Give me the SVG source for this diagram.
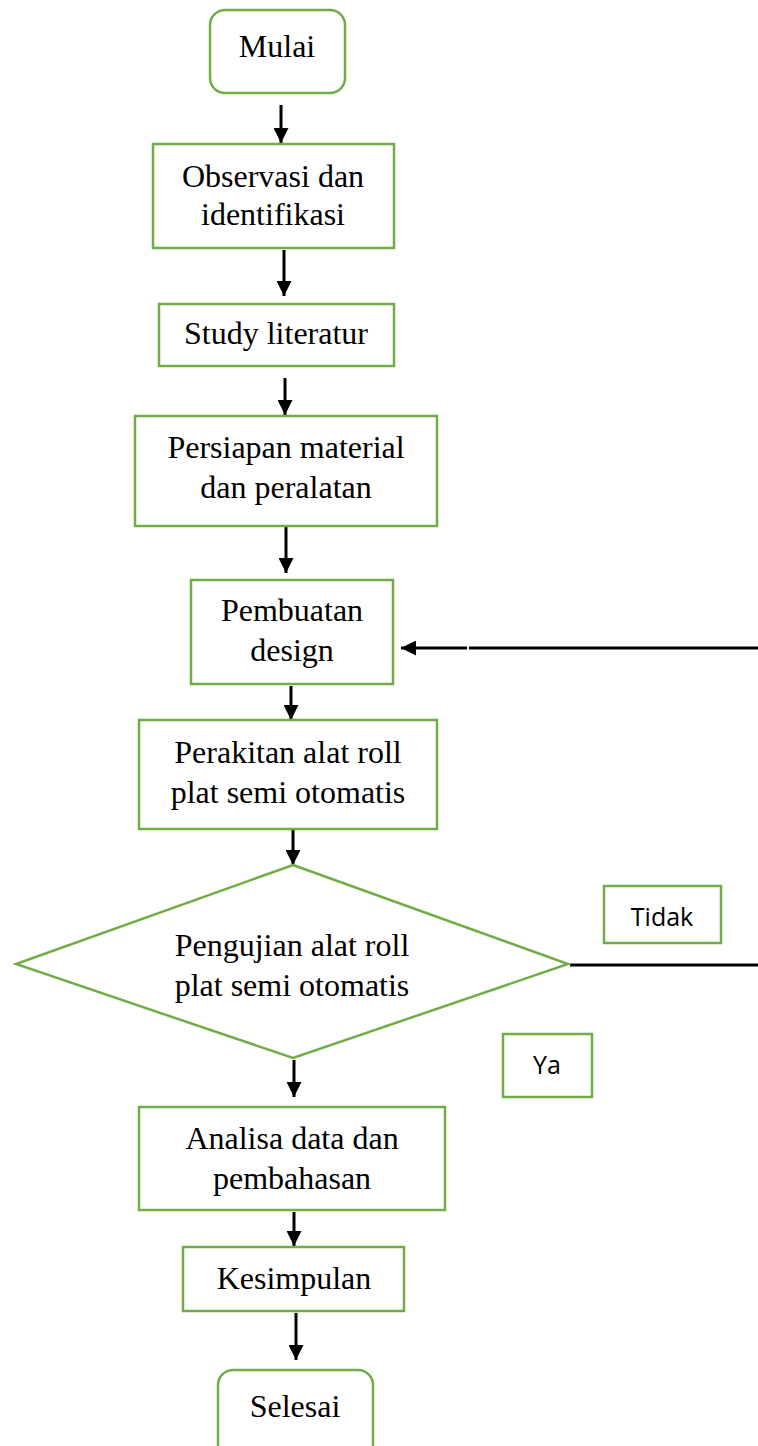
<svg xmlns="http://www.w3.org/2000/svg" width="758" height="1446" viewBox="0 0 758 1446">
<style>
.box{fill:#fff;stroke:#70AD47;stroke-width:2.5}
.t{font-family:"Liberation Serif",serif;font-size:32px;fill:#000;text-anchor:middle}
.s{font-family:"Open Sans","Liberation Sans",sans-serif;font-size:25px;fill:#000;text-anchor:middle}
.ln{stroke:#000;stroke-width:3;fill:none}
</style>
<defs>
<marker id="ah" markerWidth="5" markerHeight="5" refX="5" refY="2.5" orient="auto" markerUnits="strokeWidth">
<path d="M0,0 L5,2.5 L0,5 Z" fill="#000"/>
</marker>
</defs>
<rect width="758" height="1446" fill="#fff"/>
<g id="connectors">
<line class="ln" x1="281" y1="105" x2="281" y2="143" marker-end="url(#ah)"/>
<line class="ln" x1="284" y1="250" x2="284" y2="296" marker-end="url(#ah)"/>
<line class="ln" x1="285" y1="378" x2="285" y2="415" marker-end="url(#ah)"/>
<line class="ln" x1="286" y1="527" x2="286" y2="573" marker-end="url(#ah)"/>
<line class="ln" x1="291" y1="686" x2="291" y2="720" marker-end="url(#ah)"/>
<line class="ln" x1="293" y1="830" x2="293" y2="865" marker-end="url(#ah)"/>
<line class="ln" x1="294" y1="1060" x2="294" y2="1097" marker-end="url(#ah)"/>
<line class="ln" x1="294" y1="1212" x2="294" y2="1246" marker-end="url(#ah)"/>
<line class="ln" x1="296" y1="1313" x2="296" y2="1360" marker-end="url(#ah)"/>
<line class="ln" x1="570" y1="965" x2="758" y2="965"/>
<line class="ln" x1="469" y1="648" x2="758" y2="648"/>
<line class="ln" x1="467" y1="648" x2="401" y2="648" marker-end="url(#ah)"/>
</g>
<g id="mulai"><rect class="box" x="210" y="10" width="135" height="83" rx="15"/><text class="t" x="277" y="57">Mulai</text></g>
<g id="observasi"><rect class="box" x="153" y="144" width="241" height="104"/><text class="t" x="273" y="187">Observasi dan</text><text class="t" x="273" y="225">identifikasi</text></g>
<g id="study"><rect class="box" x="159" y="304" width="235" height="62"/><text class="t" x="276" y="344">Study literatur</text></g>
<g id="persiapan"><rect class="box" x="135" y="416" width="302" height="110"/><text class="t" x="286" y="458">Persiapan material</text><text class="t" x="286" y="498">dan peralatan</text></g>
<g id="pembuatan"><rect class="box" x="191" y="580" width="202" height="104"/><text class="t" x="292" y="621">Pembuatan</text><text class="t" x="292" y="661">design</text></g>
<g id="perakitan"><rect class="box" x="139" y="720" width="298" height="109"/><text class="t" x="288" y="763">Perakitan alat roll</text><text class="t" x="288" y="803">plat semi otomatis</text></g>
<g id="pengujian"><polygon class="box" points="293,865 568,964 293,1058 16,964"/><text class="t" x="292" y="956">Pengujian alat roll</text><text class="t" x="292" y="996">plat semi otomatis</text></g>
<g id="tidak"><rect class="box" x="604" y="886" width="117" height="57"/><text class="s" x="662" y="926">Tidak</text></g>
<g id="ya"><rect class="box" x="503" y="1034" width="89" height="63"/><text class="s" x="547" y="1074">Ya</text></g>
<g id="analisa"><rect class="box" x="139" y="1107" width="306" height="103"/><text class="t" x="292" y="1149">Analisa data dan</text><text class="t" x="292" y="1189">pembahasan</text></g>
<g id="kesimpulan"><rect class="box" x="183" y="1247" width="221" height="64"/><text class="t" x="294" y="1289">Kesimpulan</text></g>
<g id="selesai"><rect class="box" x="218" y="1370" width="155" height="90" rx="15"/><text class="t" x="295" y="1417">Selesai</text></g>
</svg>
